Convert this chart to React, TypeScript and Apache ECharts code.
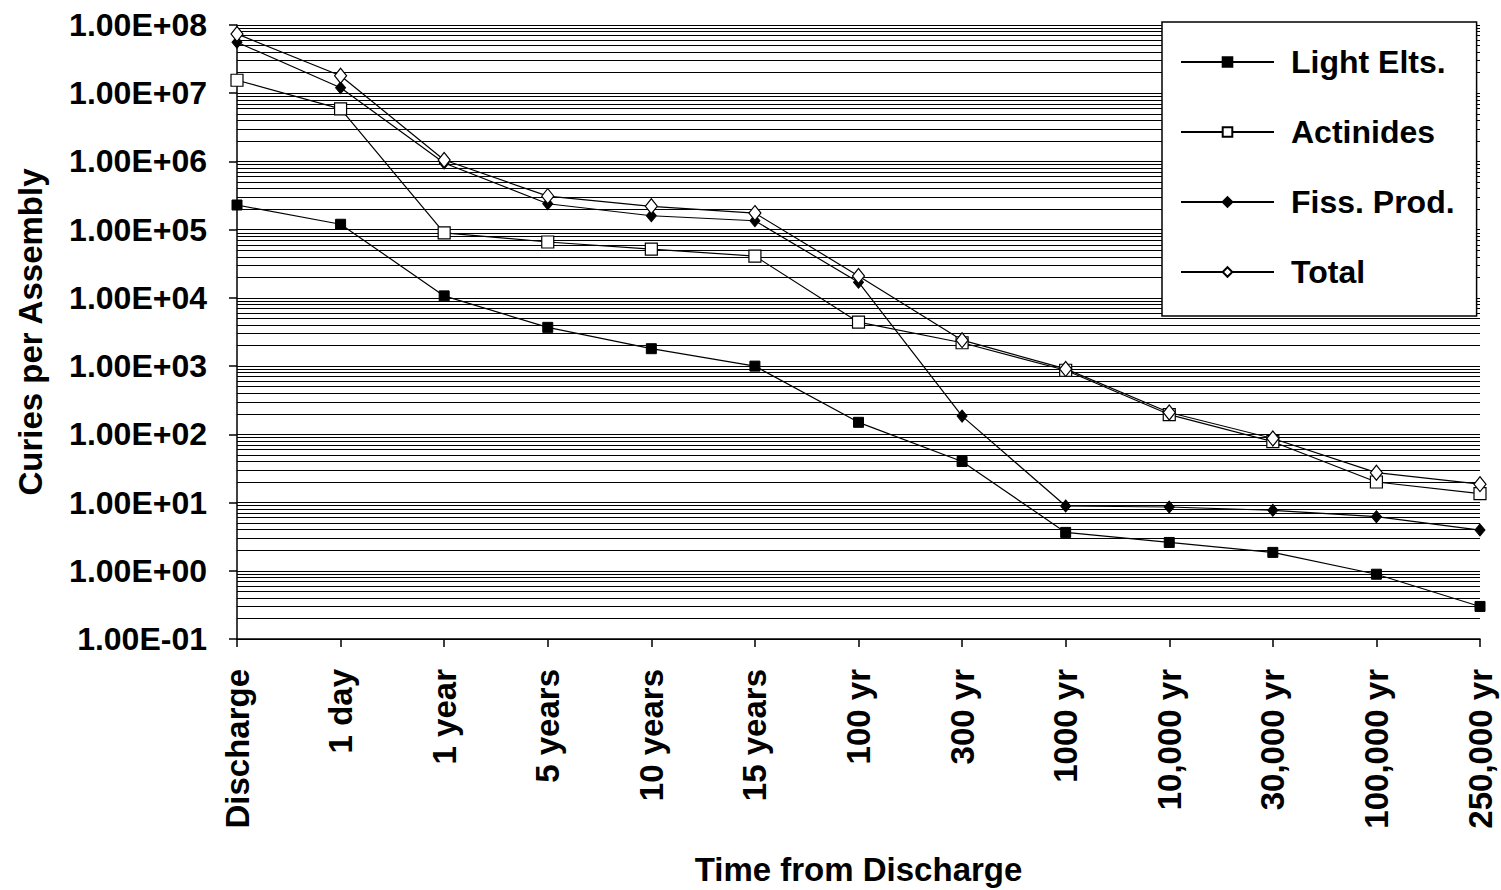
import React, { useEffect, useRef } from "react";
import * as echarts from "echarts";

const categories = [
  "Discharge", "1 day", "1 year", "5 years", "10 years", "15 years", "100 yr",
  "300 yr", "1000 yr", "10,000 yr", "30,000 yr", "100,000 yr", "250,000 yr",
];
const lightElts = [2.3e5, 1.2e5, 1.07e4, 3.7e3, 1.8e3, 1.0e3, 150, 40, 3.65, 2.6, 1.86, 0.89, 0.3];
const actinides = [1.55e7, 5.9e6, 9.0e4, 6.6e4, 5.2e4, 4.1e4, 4.4e3, 2.2e3, 870, 195, 78, 20, 13.5];
const fissProd = [5.6e7, 1.2e7, 9.5e5, 2.4e5, 1.6e5, 1.35e5, 1.7e4, 185, 8.9, 8.6, 7.7, 6.2, 3.95];
const total = [7.4e7, 1.8e7, 1.05e6, 3.1e5, 2.2e5, 1.75e5, 2.1e4, 2.4e3, 910, 209, 87, 27.4, 18.6];

const decadeExponents = [-1, 0, 1, 2, 3, 4, 5, 6, 7];
const minorMultipliers = [2, 3, 4, 5, 6, 7, 8, 9];

const FONT = "'Liberation Sans', Arial, sans-serif";

function fmtExp(v: number): string {
  const e = Math.round(Math.log10(v));
  const s = e < 0 ? "-" : "+";
  const a = Math.abs(e);
  return `1.00E${s}${a < 10 ? "0" + a : a}`;
}

export default function App() {
  const ref = useRef<HTMLDivElement>(null);
  useEffect(() => {
    if (!ref.current) return;
    const chart = echarts.init(ref.current, null, { renderer: "svg" });
    const minorLines: any[] = [];
    decadeExponents.forEach((k) =>
      minorMultipliers.forEach((m) => minorLines.push({ yAxis: m * Math.pow(10, k) }))
    );
    const base = {
      type: "line",
      lineStyle: { color: "#000", width: 1.2 },
      z: 5,
    };
    chart.setOption({
      animation: false,
      backgroundColor: "#fff",
      grid: { left: 237, right: 21, top: 25, bottom: 251, outerBoundsMode: "none", containLabel: false },
      legend: {
        data: ["Light Elts.", "Actinides", "Fiss. Prod.", "Total"],
        orient: "vertical",
        left: 1162,
        top: 22,
        z: 100,
        padding: [24, 22, 28, 18],
        itemGap: 38,
        itemWidth: 93,
        itemHeight: 12,
        backgroundColor: "#fff",
        borderColor: "#000",
        borderWidth: 1.5,
        borderRadius: 0,
        formatter: (name: string) => `{t|${name}}`,
        textStyle: {
          fontFamily: FONT,
          fontWeight: "bold",
          fontSize: 32,
          color: "#000",
          rich: {
            t: { fontFamily: FONT, fontWeight: "bold", fontSize: 32, color: "#000", padding: [0, 0, 0, 12] },
          },
        },
      },
      xAxis: {
        type: "category",
        data: categories,
        boundaryGap: false,
        axisLine: { lineStyle: { color: "#000", width: 1.5 } },
        axisTick: { show: true, length: 8, lineStyle: { color: "#000", width: 1.5 } },
        axisLabel: {
          rotate: 90,
          margin: 30,
          fontFamily: FONT,
          fontWeight: "bold",
          fontSize: 33,
          color: "#000",
          interval: 0,
        },
        splitLine: { show: false },
        name: "Time from Discharge",
        nameLocation: "middle",
        nameGap: 214,
        nameTextStyle: { fontFamily: FONT, fontWeight: "bold", fontSize: 33, color: "#000" },
      },
      yAxis: {
        type: "log",
        logBase: 10,
        min: 0.1,
        max: 1e8,
        interval: 1,
        axisLine: { show: true, lineStyle: { color: "#000", width: 1.5 } },
        axisTick: { show: true, length: 8, lineStyle: { color: "#000", width: 1.5 } },
        axisLabel: {
          margin: 30,
          fontFamily: FONT,
          fontWeight: "bold",
          fontSize: 32,
          color: "#000",
          formatter: (v: number) => fmtExp(v),
        },
        splitLine: { show: true, lineStyle: { color: "#000", width: 1.2 } },
        name: "Curies per Assembly",
        nameLocation: "middle",
        nameRotate: 90,
        nameGap: 190,
        nameTextStyle: { fontFamily: FONT, fontWeight: "bold", fontSize: 33, color: "#000" },
      },
      series: [
        {
          name: "grid-minor",
          type: "line",
          data: [],
          z: 1,
          silent: true,
          markLine: {
            silent: true,
            z: 1,
            symbol: ["none", "none"],
            label: { show: false },
            lineStyle: { color: "#000", width: 1, type: "solid" },
            emphasis: { disabled: true },
            data: minorLines,
          },
        },
        {
          ...base,
          name: "Light Elts.",
          data: lightElts,
          symbol: "rect",
          symbolSize: 10,
          itemStyle: { color: "#000", borderColor: "#000", borderWidth: 1 },
        },
        {
          ...base,
          name: "Actinides",
          data: actinides,
          symbol: "rect",
          symbolSize: 12,
          itemStyle: { color: "#fff", borderColor: "#000", borderWidth: 1.2 },
        },
        {
          ...base,
          name: "Fiss. Prod.",
          data: fissProd,
          symbol: "diamond",
          symbolSize: [10, 12],
          itemStyle: { color: "#000", borderColor: "#000", borderWidth: 1 },
        },
        {
          ...base,
          name: "Total",
          data: total,
          symbol: "diamond",
          symbolSize: [12, 15],
          itemStyle: { color: "#fff", borderColor: "#000", borderWidth: 1.2 },
        },
      ],
    });
    return () => chart.dispose();
  }, []);
  return (
    <div
      ref={ref}
      style={{ position: "absolute", left: 0, top: 0, width: 1501, height: 890, background: "#fff" }}
    />
  );
}
